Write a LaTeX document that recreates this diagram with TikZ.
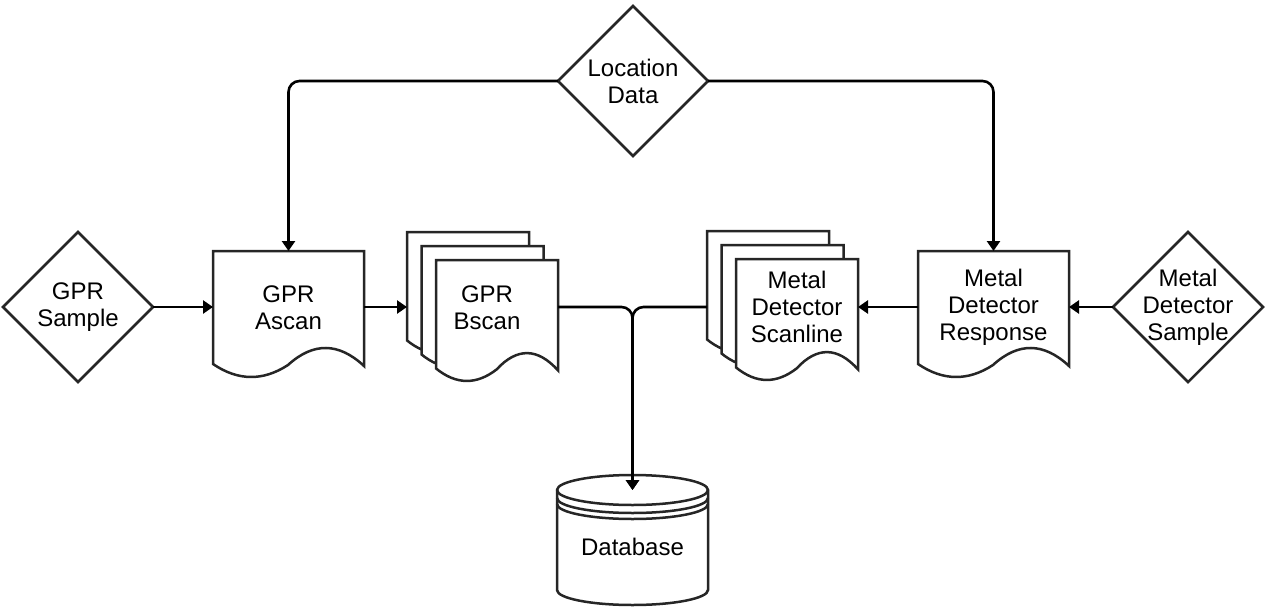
\documentclass[tikz,border=0pt]{standalone}
\usepackage{fontspec}
\setmainfont{Liberation Sans}
\usetikzlibrary{shapes.geometric,arrows.meta}
\tikzset{
  shapeline/.style={draw=black!85, line width=2.5pt},
  conn/.style={draw=black, line width=2.6pt, -{Triangle[length=10pt,width=13pt]}, rounded corners=11pt},
  txt/.style={align=center, font=\fontsize{24pt}{27pt}\selectfont, inner sep=0pt},
  dia/.style={shapeline, diamond, minimum width=150pt, minimum height=150pt, inner sep=0pt, outer sep=0pt, fill=white},
  area/.style={inner sep=0pt, outer sep=0pt, minimum width=151pt, minimum height=112pt},
}
\newcommand\docsheet[4]{%
  \draw[shapeline, fill=white, shift={(#1,#2)}, xscale=#3, yscale=#4]
    (0,0) -- (151,0) -- (151,115)
    .. controls (125.7,91.3) and (100.3,91) .. (75,114)
    .. controls (50,130.3) and (25,130) .. (0,113) -- cycle;}
\begin{document}
\begin{tikzpicture}[x=1pt,y=-1pt]
\useasboundingbox (0,0) rectangle (1269,613);

% diamonds
\node[dia] (loc) at (633,81) {};
\node[txt] at (633,81) {Location\\Data};
\node[dia] (gprs) at (78,307) {};
\node[txt] at (78,307) {GPR\\Sample};
\node[dia] (mds) at (1188,307) {};
\node[txt] at (1188,307) {Metal\\Detector\\Sample};

% documents
\docsheet{213}{251}{1}{1}
\node[area] (ascan) at (288.5,307) {};
\node[txt] at (288.5,308) {GPR\\Ascan};

\docsheet{918}{251}{1}{1}
\node[area] (resp) at (993.5,307) {};
\node[txt] at (993.5,307) {Metal\\Detector\\Response};

% stacks
\docsheet{407}{232}{0.808}{0.96}
\docsheet{421.5}{246}{0.808}{0.96}
\docsheet{436}{260}{0.808}{0.96}
\node[area] (bscan) at (482.5,307) {};
\node[txt] at (487,308) {GPR\\Bscan};

\docsheet{707}{231}{0.808}{0.96}
\docsheet{721.5}{245}{0.808}{0.96}
\docsheet{736}{259}{0.808}{0.96}
\node[area] (mdsl) at (782.5,307) {};
\node[txt] at (797,307) {Metal\\Detector\\Scanline};

% database
\draw[shapeline, fill=white] (557,490) -- (557,590)
  arc[start angle=180, end angle=360, x radius=75.5pt, y radius=15pt]
  -- (708,490)
  arc[start angle=0, end angle=180, x radius=75.5pt, y radius=15pt] -- cycle;
\draw[shapeline] (557,490) arc[start angle=180, end angle=360, x radius=75.5pt, y radius=15pt];
\draw[shapeline] (557,498) arc[start angle=180, end angle=360, x radius=75.5pt, y radius=15pt];
\draw[shapeline] (557,504) arc[start angle=180, end angle=360, x radius=75.5pt, y radius=15pt];
\node[inner sep=0pt, minimum width=151pt, minimum height=130pt] (db) at (632.5,540) {};
\node[txt] at (632.5,547) {Database};
\coordinate (dbin) at (632.5,490);

% connectors
\draw[conn] (loc.west) -| (ascan.north);
\draw[conn] (loc.east) -| (resp.north);
\draw[conn] (gprs.east) -- (ascan.west);
\draw[conn] (ascan.east) -- (bscan.west);
\draw[conn] (bscan.east) -| (dbin);
\draw[conn] (mdsl.west) -| (dbin);
\draw[conn] (resp.west) -- (mdsl.east);
\draw[conn] (mds.west) -- (resp.east);
\end{tikzpicture}
\end{document}
